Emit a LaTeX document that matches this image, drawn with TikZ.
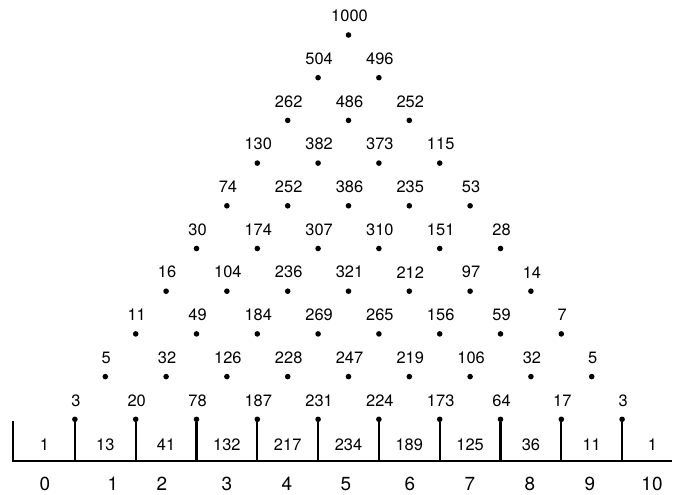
\documentclass[tikz,border=0pt]{standalone}
\usepackage{fontspec}
\setmainfont{TeX Gyre Heros}
\begin{document}
\begin{tikzpicture}[x=1bp,y=-1bp,
  dot/.style={circle,fill=black,inner sep=0pt,minimum size=5.6bp},
  lab/.style={inner sep=0pt,font=\fontsize{16.5}{16.5}\selectfont},
  axlab/.style={inner sep=0pt,font=\fontsize{19}{19}\selectfont},
  stem/.style={line width=2.1bp},
  baseln/.style={line width=2.3bp}]
\useasboundingbox (0,0) rectangle (675,495);
% triangle of dots with labels
\foreach \row [count=\r from 0] in {{1000},{504,496},{262,486,252},{130,382,373,115},{74,252,386,235,53},{30,174,307,310,151,28},{16,104,236,321,212,97,14},{11,49,184,269,265,156,59,7},{5,32,126,228,247,219,106,32,5},{3,20,78,187,231,224,173,64,17,3}}{
  \foreach \v [count=\k from 0] in \row {
    \pgfmathsetmacro{\px}{348.5+(2*\k-\r)*30.4}
    \pgfmathsetmacro{\py}{35+\r*42.7}
    \node[dot] (d\r-\k) at (\px,\py) {};
    \node[lab] (l\r-\k) at (\px+1,\py-19) {\v};
  }
}
% baseline
\coordinate (bl) at (13,461);
\coordinate (br) at (672,461);
\coordinate (bt) at (13,421);
\draw[baseln] (bt) -- (bl) -- (br);
% stems
\foreach \k in {0,...,9}{
  \draw[stem] (d9-\k) -- (d9-\k |- bl);
}
% bottom values
\foreach \v [count=\k from 0] in {1,13,41,132,217,234,189,125,36,11,1}{
  \pgfmathsetmacro{\px}{348.5+(2*\k-10)*30.4}
  \node[lab] (b\k) at (\px,445) {\v};
}
% axis labels
\foreach \v/\px in {0/45,1/113,2/162,3/227,4/287,5/346,6/410,7/470,8/530,9/590,10/652}{
  \node[axlab] (a\v) at (\px,484) {\v};
}
\end{tikzpicture}
\end{document}
